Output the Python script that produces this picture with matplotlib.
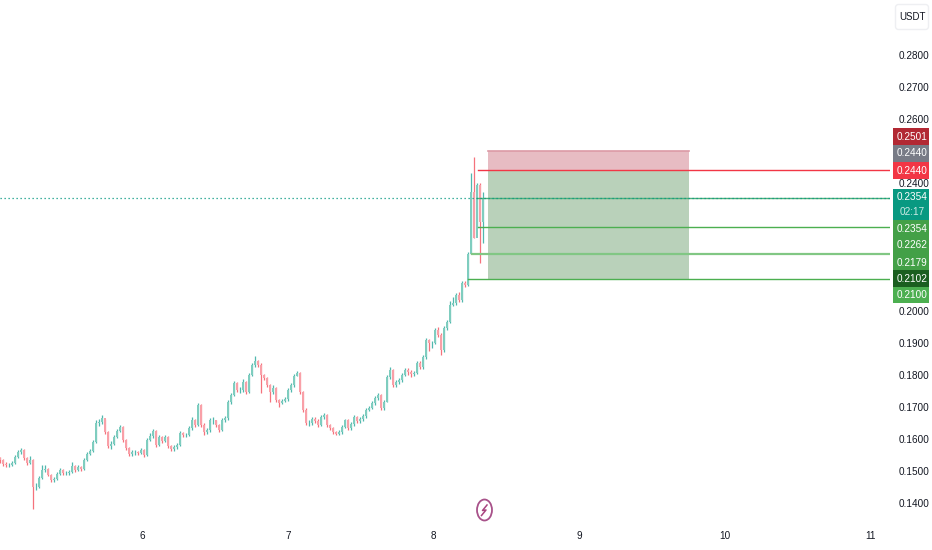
import numpy as np
import matplotlib
matplotlib.use('Agg')
import matplotlib.pyplot as plt
from matplotlib.patches import Rectangle, Ellipse, FancyBboxPatch

plt.rcParams['font.family'] = ['Liberation Sans', 'DejaVu Sans']

# candles (one every 30 min or so)
first_open = 0.1540
closes = [
    .1534, .1522, .1519, .1519, .1525, .1544, .1559, .1566, .1541, .1525,
    .1534, .1450, .1450, .1478, .1503, .1506, .1488, .1472, .1475, .1491,
    .1503, .1494, .1494, .1497, .1516, .1503, .1513, .1506, .1534, .1553,
    .1563, .1591, .1650, .1653, .1666, .1622, .1578, .1584, .1606, .1625,
    .1638, .1597, .1572, .1553, .1559, .1559, .1556, .1566, .1550, .1597,
    .1609, .1625, .1581, .1606, .1594, .1606, .1578, .1569, .1575, .1581,
    .1619, .1613, .1613, .1634, .1659, .1644, .1706, .1644, .1622, .1628,
    .1659, .1659, .1644, .1628, .1659, .1666, .1716, .1738, .1775, .1753,
    .1753, .1778, .1747, .1800, .1831, .1844, .1831, .1800, .1791, .1769,
    .1747, .1759, .1722, .1713, .1719, .1725, .1753, .1769, .1797, .1806,
    .1747, .1691, .1650, .1650, .1663, .1656, .1644, .1669, .1675, .1644,
    .1634, .1622, .1616, .1622, .1638, .1659, .1634, .1647, .1669, .1656,
    .1663, .1672, .1691, .1697, .1713, .1728, .1738, .1697, .1716, .1794,
    .1816, .1769, .1778, .1784, .1800, .1816, .1809, .1803, .1806, .1838,
    .1825, .1856, .1909, .1900, .1900, .1941, .1925, .1878, .1947, .1966,
    .2019, .2025, .2050, .2034, .2088, .2081, .2178, .2372, .2228, .2394,
    .2278, .2354,
]
highs = [
    .1545, .1537, .1527, .1525, .1531, .1550, .1565, .1572, .1569, .1544,
    .1547, .1537, .1462, .1484, .1519, .1518, .1509, .1491, .1481, .1497,
    .1509, .1506, .1500, .1503, .1528, .1519, .1519, .1516, .1541, .1559,
    .1569, .1597, .1660, .1663, .1676, .1662, .1625, .1594, .1612, .1631,
    .1644, .1641, .1600, .1575, .1565, .1566, .1562, .1572, .1569, .1603,
    .1619, .1631, .1628, .1612, .1609, .1612, .1609, .1581, .1581, .1587,
    .1625, .1622, .1619, .1641, .1669, .1662, .1712, .1709, .1650, .1634,
    .1665, .1669, .1660, .1647, .1665, .1672, .1722, .1744, .1781, .1778,
    .1763, .1787, .1781, .1806, .1837, .1859, .1847, .1837, .1803, .1794,
    .1772, .1769, .1762, .1725, .1725, .1731, .1759, .1775, .1803, .1812,
    .1809, .1750, .1697, .1659, .1669, .1669, .1662, .1675, .1681, .1678,
    .1647, .1638, .1625, .1628, .1644, .1662, .1662, .1653, .1675, .1672,
    .1669, .1678, .1697, .1703, .1719, .1734, .1744, .1741, .1722, .1800,
    .1825, .1819, .1784, .1791, .1806, .1822, .1822, .1816, .1812, .1844,
    .1844, .1862, .1916, .1912, .1906, .1947, .1950, .1931, .1953, .1972,
    .2031, .2044, .2056, .2059, .2094, .2094, .2184, .2431, .2481, .2400,
    .2400, .2372,
]
lows = [
    .1525, .1516, .1513, .1513, .1516, .1522, .1541, .1553, .1534, .1519,
    .1522, .1381, .1441, .1447, .1475, .1497, .1484, .1466, .1466, .1472,
    .1488, .1488, .1488, .1488, .1494, .1497, .1500, .1500, .1503, .1531,
    .1550, .1559, .1588, .1641, .1647, .1616, .1572, .1569, .1581, .1603,
    .1622, .1591, .1566, .1547, .1547, .1550, .1550, .1553, .1544, .1547,
    .1594, .1603, .1575, .1578, .1588, .1591, .1572, .1563, .1563, .1569,
    .1578, .1606, .1606, .1609, .1628, .1638, .1641, .1638, .1612, .1616,
    .1622, .1647, .1638, .1622, .1625, .1653, .1659, .1709, .1734, .1747,
    .1744, .1747, .1741, .1744, .1797, .1825, .1825, .1744, .1784, .1763,
    .1716, .1741, .1716, .1700, .1709, .1716, .1719, .1747, .1763, .1797,
    .1741, .1684, .1644, .1641, .1644, .1650, .1638, .1641, .1663, .1638,
    .1628, .1616, .1613, .1613, .1616, .1634, .1628, .1628, .1641, .1650,
    .1650, .1656, .1666, .1688, .1694, .1706, .1722, .1691, .1691, .1716,
    .1788, .1763, .1763, .1772, .1778, .1797, .1800, .1794, .1797, .1803,
    .1819, .1819, .1850, .1875, .1884, .1897, .1919, .1863, .1872, .1941,
    .1963, .2016, .2019, .2028, .2028, .2075, .2078, .2178, .2228, .2259,
    .2150, .2213,
]

# position tool and its levels
box_top = 0.2501
box_entry = 0.2440
box_stop = 0.2100
level_prices = [0.2440, 0.2354, 0.2262, 0.2179, 0.2100]
last_price = 0.2354

day_ticks = [6, 7, 8, 9, 10, 11]
price_ticks = [.14, .15, .16, .17, .18, .19, .20, .24, .26, .27, .28]

label_texts = ['0.2501', '0.2440', '0.2440', '0.2354', '0.2354', '0.2262', '0.2179', '0.2102', '0.2100']
label_colors = ['#b22833', '#787b86', '#f23645', '#089981', '#43a047', '#43a047', '#43a047', '#1b5e20', '#4caf50']

closes = np.array(closes)
opens = np.r_[first_open, closes[:-1]]
highs = np.array(highs)
lows = np.array(lows)

fig = plt.figure(figsize=(9.32, 5.5), dpi=100)
ax = fig.add_axes([0, 28 / 550, 890 / 932, 522 / 550])

x_start = 5.021
step = 3 / 145.6
xs = x_start + np.arange(len(closes)) * step
up = closes >= opens

ax.vlines(xs[up], lows[up], highs[up], color='#26a69a', lw=0.9, alpha=0.8, zorder=3)
ax.vlines(xs[~up], lows[~up], highs[~up], color='#f23645', lw=0.9, alpha=0.7, zorder=3)
ax.bar(xs[up], (closes - opens)[up], 0.019, bottom=opens[up], color='#7fcdbf', lw=0, zorder=4)
ax.bar(xs[~up], (opens - closes)[~up], 0.019, bottom=closes[~up], color='#f9a0a8', lw=0, zorder=4)

# long/short box
ax.add_patch(Rectangle((8.373, box_entry), 1.381, box_top - box_entry, color='#e7bcc3', lw=0, zorder=2))
ax.add_patch(Rectangle((8.373, box_stop), 1.381, box_entry - box_stop, color='#b9d1ba', lw=0, zorder=2))
ax.plot([8.373, 9.754], [box_top, box_top], color='#dc9aa5', lw=1.2, zorder=2)

level_starts = [8.303, 8.296, 8.303, 8.262, 8.234]
level_colors = ['#f23645', '#4caf7a', '#4caf50', '#81c784', '#4caf50']
level_widths = [1, 1, 1, 1.6, 1]
for price, start, col, lw in zip(level_prices, level_starts, level_colors, level_widths):
    ax.plot([start, 11.2], [price, price], color=col, lw=lw, zorder=5)
ax.plot([x_start, 11.2], [last_price, last_price], color='#089981', lw=0.9, ls=(0, (1, 2.2)), zorder=5)

ax.set_xlim(x_start, 11.134)
ax.set_ylim(0.1341, 0.2972)
ax.set_xticks(day_ticks)
ax.set_xticklabels([str(d) for d in day_ticks])
ax.yaxis.tick_right()
ax.set_yticks(price_ticks)
ax.set_yticklabels(['%.4f' % p for p in price_ticks])
ax.tick_params(length=0, labelsize=7.2, labelcolor='#131722')
ax.tick_params(axis='y', pad=6.5)
ax.tick_params(axis='x', pad=6.5)
for s in ax.spines.values():
    s.set_visible(False)

# price labels, usdt button, bolt icon drawn in pixel coords
chrome = fig.add_axes([0, 0, 1, 1], zorder=10)
chrome.set_xlim(0, 932)
chrome.set_ylim(550, 0)
chrome.axis('off')

label_tops = [128, 145, 162, 189, 220, 237, 254, 270, 287]
label_bottoms = [145, 162, 179, 220, 237, 254, 270, 287, 303]
for text, col, top, bottom in zip(label_texts, label_colors, label_tops, label_bottoms):
    chrome.add_patch(Rectangle((893, top), 36, bottom - top, color=col, lw=0))
    chrome.text(912, top + 8.5, text, color='white', fontsize=7.2, ha='center', va='center')
chrome.text(912, 212, '02:17', color='#cdebe5', fontsize=7.2, ha='center', va='center')

chrome.add_patch(FancyBboxPatch((897, 6), 30, 22, boxstyle='round,pad=1.5,rounding_size=3',
                                fc='white', ec='#eeeff2', lw=1))
chrome.text(912, 17, 'USDT', color='#131722', fontsize=7, ha='center', va='center')

chrome.add_patch(Ellipse((484.5, 510), 15, 21, fc='none', ec='#a8528a', lw=1.3))
chrome.plot([487, 482.5, 486, 481.5], [505, 510.5, 510, 515.5], color='#a8447f', lw=1.1)

fig.savefig('out.png', dpi=100)
